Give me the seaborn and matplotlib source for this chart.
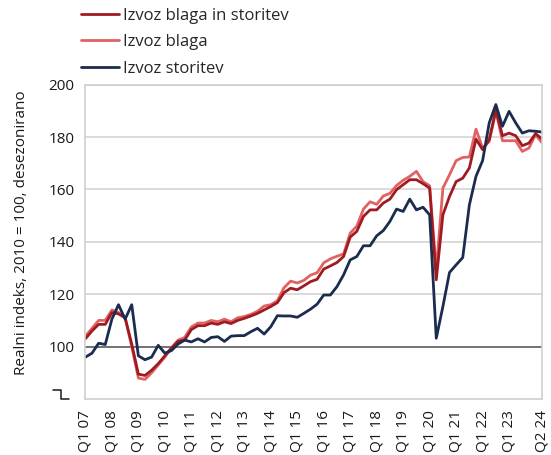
import pandas as pd
import matplotlib
matplotlib.use("Agg")
import matplotlib.pyplot as plt
import seaborn as sns

# quarterly index, Q1 2007 - Q2 2024
quarters = [f"Q{q} {y:02d}" for y in range(7, 25) for q in range(1, 5)][:70]

izvoz_skupaj = [
    103, 106, 108.5, 108.5, 113, 112.5, 111, 101, 89.5, 89, 91, 93.5,
    96.5, 99.5, 102, 102.5, 106.5, 108, 108, 109, 108.5, 109.5, 108.8, 110,
    110.8, 111.7, 112.7, 114, 115.3, 116.8, 120.6, 122.3, 121.7, 123.2, 124.8, 125.7,
    129.6, 130.8, 132.1, 134.4, 141.8, 144, 149.7, 152.2, 152.2, 154.8, 156.3, 159.9,
    161.8, 163.7, 163.7, 162.2, 160.5, 125.5, 150.3, 157.3, 163, 164.3, 168.2, 179.2,
    175.2, 179, 190.4, 180.5, 181.5, 180.5, 176.7, 177.7, 181.3, 179.2,
]
izvoz_blaga = [
    104, 107, 110, 110, 114, 113, 111, 100, 88, 87.5, 90, 93,
    96, 99.5, 102.5, 103.5, 107.5, 109, 109, 110, 109.5, 110.5, 109.5, 111,
    111.5, 112.3, 113.5, 115.5, 116, 117.5, 122.5, 125, 124.3, 125.3, 127.3, 128.2,
    132, 133.5, 134.5, 135.4, 143.3, 146, 152.5, 155.3, 154.3, 157.5, 158.5, 161.5,
    163.5, 165, 166.9, 163, 161.4, 129, 160.5, 165.6, 171, 172.2, 172.4, 183,
    175.8, 178.3, 189.8, 178.6, 178.6, 178.6, 174.5, 175.8, 180.9, 177.7,
]
izvoz_storitev = [
    96, 97.5, 101.3, 100.8, 110.5, 116, 110.5, 116, 96.5, 95, 96, 100.5,
    97.5, 98.5, 101, 102.5, 101.8, 103, 101.8, 103.5, 103.8, 102, 104, 104.2,
    104.2, 105.7, 107, 104.8, 107.6, 111.8, 111.7, 111.7, 111.2, 112.7, 114.3, 116.2,
    119.7, 119.7, 122.9, 127.4, 133.1, 134.4, 138.5, 138.5, 142.3, 144.3, 147.8, 152.5,
    151.6, 156.3, 152.2, 153.2, 150.3, 103.2, 115.3, 128.3, 131.2, 134, 154.1, 165,
    171, 185.4, 192.4, 184.1, 189.8, 185.4, 181.5, 182.4, 182.2, 181.9,
]

series_names = ["Izvoz blaga in storitev", "Izvoz blaga", "Izvoz storitev"]
colors = ["#a01a22", "#e06262", "#1b2c4e"]

tick_pos = list(range(0, 65, 4)) + [68, 69]
tick_labels = [quarters[i] for i in range(0, 65, 4)] + ["", quarters[69]]

sns.set_style("white")
plt.rcParams["font.family"] = ["Open Sans", "DejaVu Sans"]

df = pd.DataFrame({
    "t": range(len(quarters)),
    series_names[0]: izvoz_skupaj,
    series_names[1]: izvoz_blaga,
    series_names[2]: izvoz_storitev,
})

fig = plt.figure(figsize=(5.51, 4.55), dpi=100)
ax = fig.add_axes([0.155, 0.123, 0.829, 0.691])

# light red first, dark red over it, services on top
handles = {}
for name, col in [(series_names[1], colors[1]), (series_names[0], colors[0]),
                  (series_names[2], colors[2])]:
    sns.lineplot(data=df, x="t", y=name, color=col, linewidth=2.0, ax=ax, label=name)
    handles[name] = ax.get_lines()[-1]

ax.set_xlim(0, 69)
ax.set_ylim(80, 200)
ax.set_yticks(range(100, 201, 20))
for v in range(120, 201, 20):
    ax.axhline(v, color="#d4d4d4", linewidth=1.2, zorder=0)
ax.axhline(100, color="#5a5a5a", linewidth=1.2, zorder=1)

ax.set_xticks(tick_pos)
ax.set_xticklabels(tick_labels, rotation=90, fontsize=11)
ax.tick_params(axis="x", length=4, width=1, color="#c8c8c8", pad=4, labelcolor="#1a1a1a")
ax.tick_params(axis="y", length=0, pad=8, labelsize=11, labelcolor="#1a1a1a")

for s in ax.spines.values():
    s.set_color("#d0d0d0")
    s.set_linewidth(1.2)

ax.set_xlabel("")
ax.set_ylabel("Realni indeks, 2010 = 100, desezonirano", fontsize=11, color="#1a1a1a")
ax.yaxis.set_label_coords(-0.124, 0.53)

# axis break mark
bx = [(53 - 85.3) / 456.7, (61 - 85.3) / 456.7, (61 - 85.3) / 456.7, (69 - 85.3) / 456.7]
by = [9 / 314.3, 9 / 314.3, 0, 0]
ax.plot(bx, by, color="#1a1a1a", linewidth=1.1, transform=ax.transAxes, clip_on=False)

ax.legend([handles[n] for n in series_names], series_names,
          loc="upper left", bbox_to_anchor=(81 / 551, 1 - 8 / 455),
          bbox_transform=fig.transFigure, frameon=False, fontsize=12,
          handlelength=2.3, handletextpad=0.2, labelspacing=0.62,
          borderaxespad=0, borderpad=0)

fig.savefig("out.png", dpi=100)
